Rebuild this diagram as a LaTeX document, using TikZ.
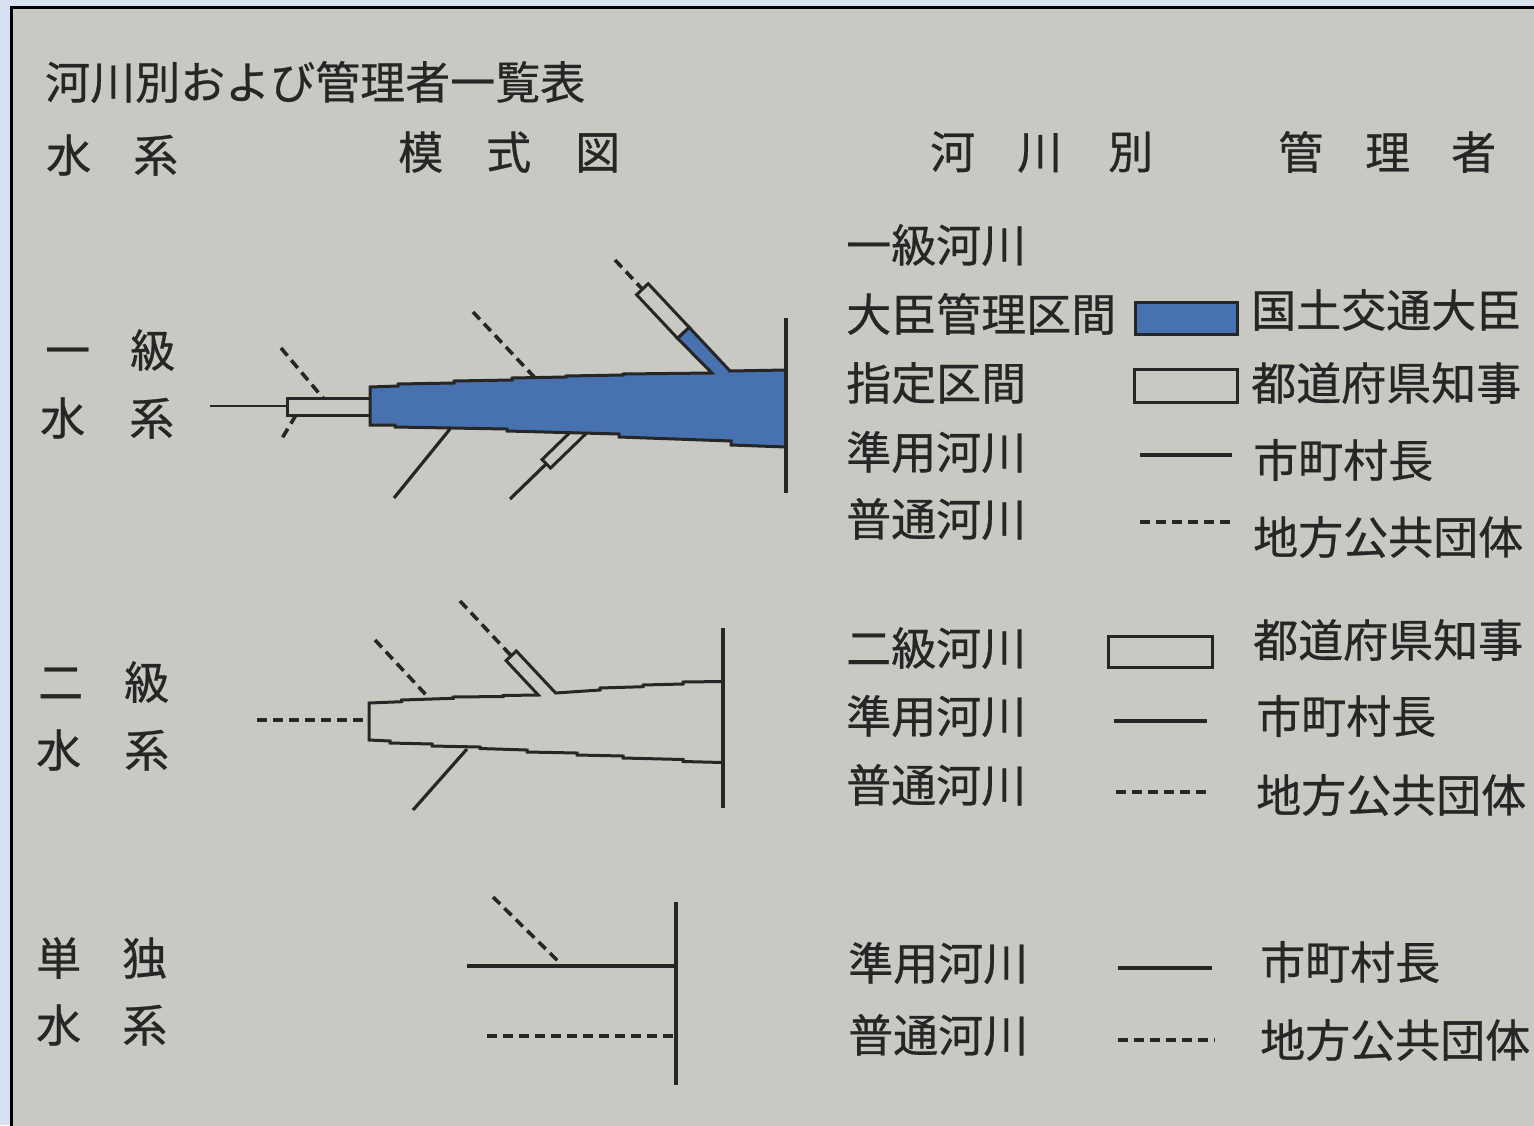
\documentclass[tikz,border=0pt]{standalone}
\usepackage{fontspec}
\newfontfamily\jpfont[FakeBold=0.6]{Noto Sans CJK JP}
\definecolor{outerbg}{HTML}{D7E1F2}
\definecolor{paper}{HTML}{C9C9C4}
\definecolor{ink}{HTML}{262626}
\definecolor{river}{HTML}{4871B0}
\newcommand\gap[1]{\hspace{#1pt}}
\tikzset{
  lbl/.style={anchor=west, inner sep=0pt, text=ink, font=\jpfont\fontsize{45}{52}\selectfont},
  ln/.style={draw=ink, line width=3.2pt, line cap=butt, line join=round},
  dsh/.style={ln, line width=3.6pt, dash pattern=on 10pt off 6pt},
  outl/.style={draw=ink, line width=3pt, line join=miter},
}
\begin{document}
\begin{tikzpicture}[x=1pt,y=-1pt]
\useasboundingbox (0,0) rectangle (1534,1125);
\clip (0,0) rectangle (1534,1125);
\fill[outerbg] (0,0) rectangle (1534,1125);
\fill[paper] (11,7) rectangle (1540,1130);
\draw[black, line width=3pt] (11,1130) -- (11,7) -- (1540,7);

% ---------- headers ----------
\node[lbl] (title) at (45,82) {河川別および管理者一覧表};
\node[lbl] (hsk) at (46,155) {水\gap{42}系};
\node[lbl] (hmz) at (398,152) {模\gap{43}式\gap{44}図};
\node[lbl] (hkb) at (930,152) {河\gap{42}川\gap{46}別};
\node[lbl] (hkr) at (1278,152) {管\gap{42}理\gap{41}者};

\node[lbl] (k1a) at (45,350) {一\gap{40}級};
\node[lbl] (k1b) at (40,418) {水\gap{44}系};
\node[lbl] (k2a) at (38,682) {二\gap{41}級};
\node[lbl] (k2b) at (36,750) {水\gap{43}系};
\node[lbl] (k3a) at (36,958) {単\gap{41}独};
\node[lbl] (k3b) at (36,1025) {水\gap{41}系};

% ---------- right table ----------
\node[lbl] (r1) at (846,245) {一級河川};
\node[lbl] (r2) at (846,314) {大臣管理区間};
\node[lbl] (r3) at (846,383) {指定区間};
\node[lbl] (r4) at (846,452) {準用河川};
\node[lbl] (r5) at (846,519) {普通河川};
\node[lbl] (m2) at (1251,310) {国土交通大臣};
\node[lbl] (m3) at (1251,383) {都道府県知事};
\node[lbl] (m4) at (1253,460) {市町村長};
\node[lbl] (m5) at (1253,537) {地方公共団体};
\fill[river] (1135,302) rectangle (1237,334);
\draw[outl] (1135,302) rectangle (1237,334);
\draw[outl] (1134,369) rectangle (1237,402);
\draw[ln] (1140,455) -- (1232,455);
\draw[dsh] (1140,522) -- (1232,522);

\node[lbl] (s1) at (846,648) {二級河川};
\node[lbl] (s2) at (846,716) {準用河川};
\node[lbl] (s3) at (846,785) {普通河川};
\node[lbl] (n1) at (1253,640) {都道府県知事};
\node[lbl] (n2) at (1256,716) {市町村長};
\node[lbl] (n3) at (1256,795) {地方公共団体};
\draw[outl] (1108,636) rectangle (1212,667);
\draw[ln] (1114,721) -- (1207,721);
\draw[dsh] (1116,792) -- (1210,792);

\node[lbl] (t1) at (848,963) {準用河川};
\node[lbl] (t2) at (848,1035) {普通河川};
\node[lbl] (u1) at (1260,962) {市町村長};
\node[lbl] (u2) at (1260,1040) {地方公共団体};
\draw[ln] (1118,968) -- (1212,968);
\draw[dsh] (1118,1040) -- (1215,1040);

% ---------- diagram 1 : first class ----------
\draw[ln, line width=2.6pt] (210,406) -- (287,406);
\draw[outl] (287,398) rectangle (370,415);
\draw[dsh] (281,348) -- (323,398);
\draw[dsh] (296,415) -- (281,440);
\draw[dsh] (473,312) -- (537,380);
\draw[ln] (450,429) -- (394,498);
% lower branch
\draw[outl] (586.4,433.3) -- (550.5,468.1) -- (542.1,459.5) -- (578,424.7);
\draw[ln] (546.3,463.8) -- (510,499);
% upper branch
\draw[dsh] (615,260) -- (642.4,289.2);
\draw[outl] (636.6,294.7) -- (648.2,283.7) -- (689.2,327.4) -- (677.6,338.4) -- cycle;
% main blue channel
\filldraw[fill=river, draw=ink, line width=3pt, line join=miter]
  (370,387) -- (398,386) -- (398,384) -- (454,383) -- (454,381) -- (512,380)
  -- (512,378) -- (566,377) -- (566,376) -- (623,375) -- (623,374) -- (712,373)
  -- (677.6,338.4) -- (689.2,327.4) -- (730,371) -- (786,370)
  -- (786,447) -- (731,445) -- (731,441) -- (619,437) -- (619,434) -- (507,431)
  -- (507,429) -- (395,427) -- (395,425) -- (370,425) -- cycle;
\draw[ln] (786,318) -- (786,493);

% ---------- diagram 2 : second class ----------
\draw[dsh] (257,720) -- (369,720);
\draw[dsh] (375,640) -- (428,697);
\draw[dsh] (460,601) -- (511.2,655.8);
\draw[ln] (467,749) -- (413,810);
\draw[outl]
  (723,681.5) -- (683,682) -- (683,684) -- (643,685) -- (643,686.7) -- (600,688)
  -- (600,690) -- (555.6,693) -- (516.3,651) -- (506.1,660.6) -- (538.3,695)
  -- (503,695.5) -- (503,696.5) -- (453,697) -- (453,698.3) -- (401.7,700)
  -- (401.7,701.7) -- (369,703) -- (369,740) -- (390,741) -- (390,743)
  -- (432,744) -- (432,746) -- (480,747) -- (480,748.5) -- (527,750) -- (527,752)
  -- (577,753) -- (577,755) -- (623,756) -- (623,758) -- (683,759.5) -- (683,761.5)
  -- (723,762.5);
\draw[ln] (723,628) -- (723,808);

% ---------- diagram 3 : independent ----------
\draw[ln] (467,966) -- (676,966);
\draw[dsh] (487,1036) -- (676,1036);
\draw[dsh] (493,897) -- (560,963);
\draw[ln] (676,902) -- (676,1085);
\end{tikzpicture}
\end{document}
